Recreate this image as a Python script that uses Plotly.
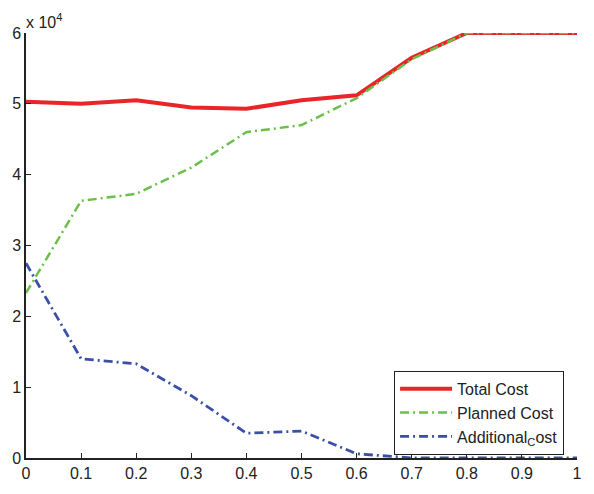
import plotly.graph_objects as go

x_vals = [0, 0.1, 0.2, 0.3, 0.4, 0.5, 0.6, 0.7, 0.8, 0.9, 1.0]
total_cost = [50300, 50000, 50500, 49500, 49300, 50500, 51200, 56500, 60000, 60000, 60000]
planned_cost = [23300, 36300, 37300, 41000, 46000, 47000, 50800, 56300, 60000, 60000, 60000]
additional_cost = [27500, 14000, 13300, 8800, 3500, 3800, 600, 0, 0, 0, 0]

y_tickvals = [0, 10000, 20000, 30000, 40000, 50000, 60000]
y_ticktext = ["0", "1", "2", "3", "4", "5", "6"]
x_tickvals = [0, 0.1, 0.2, 0.3, 0.4, 0.5, 0.6, 0.7, 0.8, 0.9, 1]
x_ticktext = ["0", "0.1", "0.2", "0.3", "0.4", "0.5", "0.6", "0.7", "0.8", "0.9", "1"]

fig = go.Figure()
fig.add_trace(go.Scatter(x=x_vals, y=total_cost, mode="lines", name="Total Cost",
                         line=dict(color="#e8262a", width=4)))
fig.add_trace(go.Scatter(x=x_vals, y=planned_cost, mode="lines", name="Planned Cost",
                         line=dict(color="#6cc04a", width=2.5, dash="9px,4px,2px,4px")))
fig.add_trace(go.Scatter(x=x_vals, y=additional_cost, mode="lines", name="Additional<sub>C</sub>ost",
                         line=dict(color="#3b4fa8", width=2.8, dash="9px,4px,2px,4px")))

font_family = "Liberation Sans, Arial, sans-serif"
fig.update_layout(
    width=594, height=494,
    margin=dict(l=26, r=14, t=33, b=27),
    paper_bgcolor="white", plot_bgcolor="white",
    font=dict(family=font_family, size=16, color="#222"),
    showlegend=True,
    legend=dict(x=0.668, y=0.205, xanchor="left", yanchor="top",
                bordercolor="#222", borderwidth=1, bgcolor="white",
                font=dict(size=16), tracegroupgap=0, itemwidth=52),
    xaxis=dict(range=[0, 1], tickvals=x_tickvals, ticktext=x_ticktext,
               showgrid=False, zeroline=False, showline=True, linecolor="#222",
               linewidth=1.5, ticks="inside", ticklen=5, tickcolor="#222",
               tickfont=dict(size=16)),
    yaxis=dict(range=[0, 60000], tickvals=y_tickvals, ticktext=y_ticktext,
               showgrid=False, zeroline=False, showline=True, linecolor="#222",
               linewidth=1.5, ticks="inside", ticklen=5, tickcolor="#222",
               tickfont=dict(size=16)),
    annotations=[dict(text="x 10<sup>4</sup>", xref="paper", yref="paper",
                      x=0, y=1, xanchor="left", yanchor="bottom",
                      showarrow=False, font=dict(size=16), xshift=-2, yshift=0)],
)

fig.write_html("out.html")
